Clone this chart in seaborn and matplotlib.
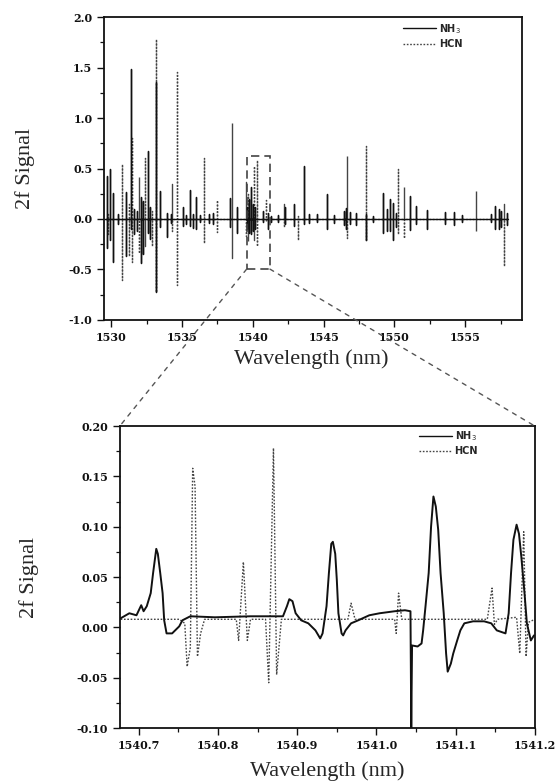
import matplotlib
matplotlib.use("Agg")
import matplotlib.pyplot as plt
import numpy as np
import pandas as pd
import seaborn as sns
from matplotlib.patches import Rectangle, ConnectionPatch
from matplotlib.lines import Line2D
from matplotlib.ticker import MultipleLocator, FormatStrFormatter

# ---------------- data: overview spectrum (spike peak / trough per line) ----------------
nh3_top_wl = [1529.68, 1529.94, 1530.14, 1530.50, 1531.03, 1531.41, 1531.60, 1531.80,
              1532.12, 1532.25, 1532.62, 1532.75, 1533.18, 1533.43, 1533.94, 1534.20,
              1535.08, 1535.30, 1535.58, 1535.75, 1535.97, 1536.30, 1536.90, 1537.20,
              1538.37, 1538.88, 1539.60, 1539.75, 1539.89, 1540.00, 1540.15, 1540.70,
              1541.05, 1541.30, 1541.80, 1542.30, 1542.88, 1543.64, 1544.00, 1544.50,
              1545.21, 1545.70, 1546.45, 1546.60, 1546.85, 1547.30, 1548.00, 1548.50,
              1549.22, 1549.50, 1549.65, 1549.90, 1550.10, 1551.09, 1551.55, 1552.30,
              1553.60, 1554.20, 1554.80, 1556.85, 1557.10, 1557.35, 1557.55, 1557.95]
nh3_top_pos = [0.43, 0.50, 0.26, 0.05, 0.27, 1.49, 0.10, 0.08,
               0.22, 0.18, 0.67, 0.12, 1.36, 0.28, 0.06, 0.05,
               0.12, 0.04, 0.29, 0.05, 0.22, 0.04, 0.05, 0.06,
               0.21, 0.12, 0.12, 0.20, 0.32, 0.15, 0.12, 0.08,
               0.06, 0.03, 0.04, 0.12, 0.15, 0.53, 0.05, 0.05,
               0.25, 0.04, 0.08, 0.11, 0.07, 0.06, 0.05, 0.03,
               0.26, 0.10, 0.20, 0.16, 0.06, 0.23, 0.13, 0.09,
               0.07, 0.07, 0.04, 0.05, 0.13, 0.10, 0.08, 0.06]
nh3_top_neg = [-0.29, -0.21, -0.43, -0.05, -0.37, -0.10, -0.15, -0.12,
               -0.44, -0.35, -0.14, -0.20, -0.72, -0.08, -0.18, -0.04,
               -0.07, -0.05, -0.07, -0.09, -0.10, -0.03, -0.04, -0.05,
               -0.08, -0.14, -0.10, -0.14, -0.15, -0.12, -0.10, -0.03,
               -0.10, -0.03, -0.03, -0.05, -0.07, -0.05, -0.04, -0.03,
               -0.10, -0.04, -0.06, -0.10, -0.05, -0.06, -0.21, -0.03,
               -0.14, -0.12, -0.12, -0.21, -0.08, -0.11, -0.05, -0.10,
               -0.05, -0.06, -0.03, -0.03, -0.10, -0.10, -0.08, -0.06]

hcn_top_wl = [1529.75, 1530.77, 1531.23, 1531.48, 1531.99, 1532.37, 1532.88, 1533.18,
              1534.32, 1534.62, 1536.52, 1537.49, 1538.50, 1539.51, 1539.65, 1540.09,
              1540.29, 1540.90, 1542.17, 1543.19, 1546.68, 1548.00, 1550.28, 1550.66,
              1555.73, 1557.75]
hcn_top_pos = [0.05, 0.55, 0.15, 0.80, 0.42, 0.60, 0.08, 1.78,
               0.35, 1.46, 0.60, 0.19, 0.95, 0.37, 0.25, 0.53,
               0.58, 0.19, 0.15, 0.03, 0.62, 0.72, 0.50, 0.32,
               0.28, 0.15]
hcn_top_neg = [-0.15, -0.60, -0.37, -0.43, -0.34, -0.27, -0.27, -0.72,
               -0.12, -0.65, -0.24, -0.13, -0.39, -0.17, -0.22, -0.21,
               -0.27, -0.02, -0.08, -0.21, -0.19, -0.22, -0.15, -0.19,
               -0.12, -0.47]
top_start, top_end = 1529.55, 1558.0

# ---------------- data: zoomed spectrum ----------------
nh3_zoom_wl = [1540.677, 1540.688, 1540.697, 1540.703, 1540.706, 1540.710, 1540.715, 1540.718,
               1540.722, 1540.724, 1540.727, 1540.730, 1540.732, 1540.735, 1540.742, 1540.751,
               1540.755, 1540.765, 1540.796, 1540.841, 1540.882, 1540.887, 1540.890, 1540.894,
               1540.898, 1540.905, 1540.914, 1540.923, 1540.929, 1540.932, 1540.937, 1540.940,
               1540.943, 1540.945, 1540.948, 1540.950, 1540.952, 1540.956, 1540.958, 1540.961,
               1540.968, 1540.977, 1540.991, 1541.004, 1541.023, 1541.036, 1541.043, 1541.044,
               1541.045, 1541.052, 1541.057, 1541.059, 1541.062, 1541.066, 1541.069, 1541.072,
               1541.075, 1541.078, 1541.081, 1541.085, 1541.088, 1541.090, 1541.094, 1541.097,
               1541.102, 1541.106, 1541.111, 1541.122, 1541.136, 1541.145, 1541.152, 1541.163,
               1541.167, 1541.170, 1541.173, 1541.177, 1541.180, 1541.183, 1541.187, 1541.190,
               1541.195, 1541.199]
nh3_zoom_sig = [0.009, 0.014, 0.012, 0.022, 0.016, 0.021, 0.034, 0.054,
                0.078, 0.073, 0.054, 0.034, 0.007, -0.006, -0.006, 0.001,
                0.007, 0.011, 0.010, 0.011, 0.011, 0.021, 0.028, 0.026,
                0.014, 0.007, 0.004, -0.003, -0.011, -0.006, 0.021, 0.054,
                0.083, 0.085, 0.073, 0.047, 0.014, -0.006, -0.008, -0.003,
                0.004, 0.007, 0.012, 0.014, 0.016, 0.017, 0.016, -0.100,
                -0.018, -0.019, -0.016, -0.003, 0.021, 0.054, 0.100, 0.130,
                0.120, 0.097, 0.054, 0.014, -0.026, -0.044, -0.036, -0.026,
                -0.013, -0.003, 0.004, 0.006, 0.006, 0.004, -0.003, -0.006,
                0.014, 0.054, 0.087, 0.102, 0.093, 0.070, 0.034, 0.004,
                -0.013, -0.008]

hcn_zoom_wl = [1540.677, 1540.751, 1540.758, 1540.761, 1540.765, 1540.768, 1540.771, 1540.774,
               1540.778, 1540.783, 1540.823, 1540.826, 1540.832, 1540.837, 1540.841, 1540.860,
               1540.864, 1540.870, 1540.874, 1540.880, 1540.964, 1540.968, 1540.973, 1541.023,
               1541.025, 1541.028, 1541.032, 1541.140, 1541.146, 1541.149, 1541.153, 1541.177,
               1541.181, 1541.186, 1541.189, 1541.192, 1541.200]
hcn_zoom_sig = [0.008, 0.008, 0.004, -0.039, -0.020, 0.158, 0.140, -0.029,
                -0.006, 0.008, 0.008, -0.013, 0.065, -0.013, 0.008, 0.008,
                -0.055, 0.178, -0.047, 0.008, 0.008, 0.024, 0.008, 0.008,
                -0.006, 0.034, 0.008, 0.008, 0.039, 0.003, 0.008, 0.010,
                -0.026, 0.095, -0.029, 0.005, 0.008]

labels = ["NH$_3$", "HCN"]


def spike_frame(wl, pos, neg, start, end):
    xs, ys = [start], [0.0]
    for w, p, n in zip(wl, pos, neg):
        xs += [w, w, w, w]
        ys += [0.0, p, n, 0.0]
    xs.append(end)
    ys.append(0.0)
    return pd.DataFrame({"wl": xs, "sig": ys})


sns.set_theme(style="ticks")
plt.rcParams["font.family"] = ["DejaVu Serif"]

fig = plt.figure(figsize=(5.6, 7.84), dpi=100)
ax1 = fig.add_axes([0.186, 0.592, 0.746, 0.386])
ax2 = fig.add_axes([0.214, 0.0714, 0.741, 0.3852])

nh3_style = dict(color="#111111", lw=1.0)
hcn_style = dict(color="#444444", lw=1.0, linestyle=(0, (1.2, 1.2)))

# top panel
df_h = spike_frame(hcn_top_wl, hcn_top_pos, hcn_top_neg, top_start, top_end)
df_n = spike_frame(nh3_top_wl, nh3_top_pos, nh3_top_neg, top_start, top_end)
sns.lineplot(data=df_h, x="wl", y="sig", sort=False, estimator=None, ax=ax1, **hcn_style)
sns.lineplot(data=df_n, x="wl", y="sig", sort=False, estimator=None, ax=ax1, **nh3_style)

# bottom panel
sns.lineplot(x=hcn_zoom_wl, y=hcn_zoom_sig, sort=False, estimator=None, ax=ax2, **hcn_style)
sns.lineplot(x=nh3_zoom_wl, y=nh3_zoom_sig, sort=False, estimator=None, ax=ax2,
             color="#111111", lw=1.4)

ax1.set_xlim(1529.5, 1559.0)
ax1.set_ylim(-1.0, 2.0)
ax2.set_xlim(1540.676, 1541.2)
ax2.set_ylim(-0.10, 0.20)

ax1.xaxis.set_major_locator(MultipleLocator(5))
ax1.xaxis.set_minor_locator(MultipleLocator(2.5))
ax1.yaxis.set_major_locator(MultipleLocator(0.5))
ax1.yaxis.set_minor_locator(MultipleLocator(0.25))
ax1.xaxis.set_major_formatter(FormatStrFormatter("%d"))
ax1.yaxis.set_major_formatter(FormatStrFormatter("%.1f"))

ax2.xaxis.set_major_locator(MultipleLocator(0.1))
ax2.xaxis.set_minor_locator(MultipleLocator(0.05))
ax2.yaxis.set_major_locator(MultipleLocator(0.05))
ax2.yaxis.set_minor_locator(MultipleLocator(0.025))
ax2.xaxis.set_major_formatter(FormatStrFormatter("%.1f"))
ax2.yaxis.set_major_formatter(FormatStrFormatter("%.2f"))

for ax in (ax1, ax2):
    for sp in ax.spines.values():
        sp.set_visible(True)
        sp.set_linewidth(1.3)
        sp.set_color("#111111")
    ax.tick_params(which="major", direction="out", length=5, width=1.0, labelsize=8,
                   top=False, right=False, colors="#111111")
    ax.tick_params(which="minor", direction="out", length=3, width=0.9,
                   top=False, right=False, colors="#111111")
    for t in ax.get_xticklabels() + ax.get_yticklabels():
        t.set_fontweight("bold")
    ax.set_ylabel("2f Signal", fontsize=16, family="Liberation Serif")
    ax.set_xlabel("Wavelength (nm)", fontsize=16, family="Liberation Serif")
    ax.grid(False)
    handles = [Line2D([], [], **nh3_style), Line2D([], [], **hcn_style)]
    ax.legend(handles, labels, loc="upper left", frameon=False, handlelength=3.4,
              handletextpad=0.3, labelspacing=0.35, borderpad=0, borderaxespad=0,
              bbox_to_anchor=(0.715, 0.985) if ax is ax1 else (0.72, 0.99),
              prop={"family": "DejaVu Sans", "size": 7, "weight": "bold"})

ax1.yaxis.set_label_coords(-0.165, 0.5)
ax1.xaxis.set_label_coords(0.495, -0.097)
ax2.yaxis.set_label_coords(-0.195, 0.5)
ax2.xaxis.set_label_coords(0.50, -0.11)

# zoom box and connectors
box_x0, box_x1, box_y0, box_y1 = 1539.56, 1541.21, -0.497, 0.628
ax1.add_patch(Rectangle((box_x0, box_y0), box_x1 - box_x0, box_y1 - box_y0, fill=False,
                        ec="#444444", lw=1.2, ls=(0, (5, 3)), zorder=5))
for xa, xb in ((box_x0, 0.0), (box_x1, 1.0)):
    con = ConnectionPatch(xyA=(xa, box_y0), coordsA=ax1.transData,
                          xyB=(xb, 1.0), coordsB=ax2.transAxes,
                          color="#555555", lw=1.0, ls=(0, (3, 4)))
    fig.add_artist(con)

fig.savefig("out.png", dpi=100)
